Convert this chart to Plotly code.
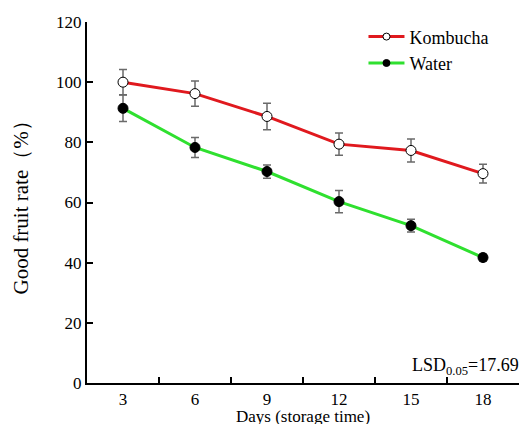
import plotly.graph_objects as go

days = ["3", "6", "9", "12", "15", "18"]
kombucha = [100.0, 96.2, 88.6, 79.4, 77.3, 69.6]
kombucha_err = [4.2, 4.2, 4.4, 3.7, 3.8, 3.1]
water = [91.3, 78.3, 70.3, 60.3, 52.3, 41.7]
water_err = [4.4, 3.3, 2.2, 3.7, 2.1, 1.2]
yticks = [0, 20, 40, 60, 80, 100, 120]

FONT = "Times New Roman, Liberation Serif, serif"
RED = "#e0191e"
GREEN = "#2fe02f"

fig = go.Figure()
fig.add_trace(go.Scatter(
    x=days, y=kombucha, name="Kombucha", mode="lines+markers", showlegend=False,
    line=dict(color=RED, width=3),
    marker=dict(symbol="circle", size=10, color="white", line=dict(color="black", width=1)),
    error_y=dict(type="data", array=kombucha_err, color="#6a6a6a", thickness=1.5, width=4),
))
fig.add_trace(go.Scatter(
    x=days, y=water, name="Water", mode="lines+markers", showlegend=False,
    line=dict(color=GREEN, width=3),
    marker=dict(symbol="circle", size=10, color="black", line=dict(color="black", width=1)),
    error_y=dict(type="data", array=water_err, color="#6a6a6a", thickness=1.5, width=4),
))
fig.add_trace(go.Scatter(
    x=[None], y=[None], name="Kombucha", mode="lines+markers",
    line=dict(color=RED, width=3),
    marker=dict(symbol="circle", size=7, color="white", line=dict(color="black", width=1)),
))
fig.add_trace(go.Scatter(
    x=[None], y=[None], name="Water", mode="lines+markers",
    line=dict(color=GREEN, width=3),
    marker=dict(symbol="circle", size=7, color="black", line=dict(color="black", width=1)),
))

fig.add_annotation(
    text="LSD<sub>0.05</sub>=17.69", xref="paper", yref="paper",
    x=1.004, y=0.045, xanchor="right", yanchor="middle", showarrow=False,
    font=dict(family=FONT, size=18, color="black"),
)
fig.add_annotation(
    text="Days (storage time)", xref="paper", yref="paper",
    x=0.5, y=-0.06, xanchor="center", yanchor="top", showarrow=False,
    font=dict(family=FONT, size=17, color="black"),
)
fig.add_annotation(
    text="Good fruit rate（%）", xref="paper", yref="paper",
    x=-0.155, y=0.5, xanchor="center", yanchor="middle", showarrow=False, textangle=-90,
    font=dict(family=FONT, size=21, color="black"),
)

# page has an 8px body margin, so the figure is 8px smaller and shifted
fig.update_layout(
    width=521, height=416,
    margin=dict(l=79, r=10, t=14, b=41, autoexpand=False),
    paper_bgcolor="white", plot_bgcolor="white",
    font=dict(family=FONT, size=17, color="black"),
    showlegend=True,
    legend=dict(x=0.64, y=1.01, xanchor="left", yanchor="top",
                font=dict(family=FONT, size=18, color="black"),
                bgcolor="rgba(0,0,0,0)", tracegroupgap=0, itemwidth=36),
    xaxis=dict(
        type="category", range=[-0.5, 5.5], tickson="boundaries", automargin=False,
        ticks="inside", ticklen=6, tickwidth=1.5, tickcolor="black",
        showline=True, linecolor="black", linewidth=2, showgrid=False, zeroline=False,
        tickfont=dict(family=FONT, size=17, color="black"),
    ),
    yaxis=dict(
        range=[0, 120], tickvals=yticks, automargin=False,
        ticks="inside", ticklen=6, tickwidth=1.5, tickcolor="black",
        showline=True, linecolor="black", linewidth=2, showgrid=False, zeroline=False,
        tickfont=dict(family=FONT, size=17, color="black"),
    ),
)

fig.write_html("out.html")
